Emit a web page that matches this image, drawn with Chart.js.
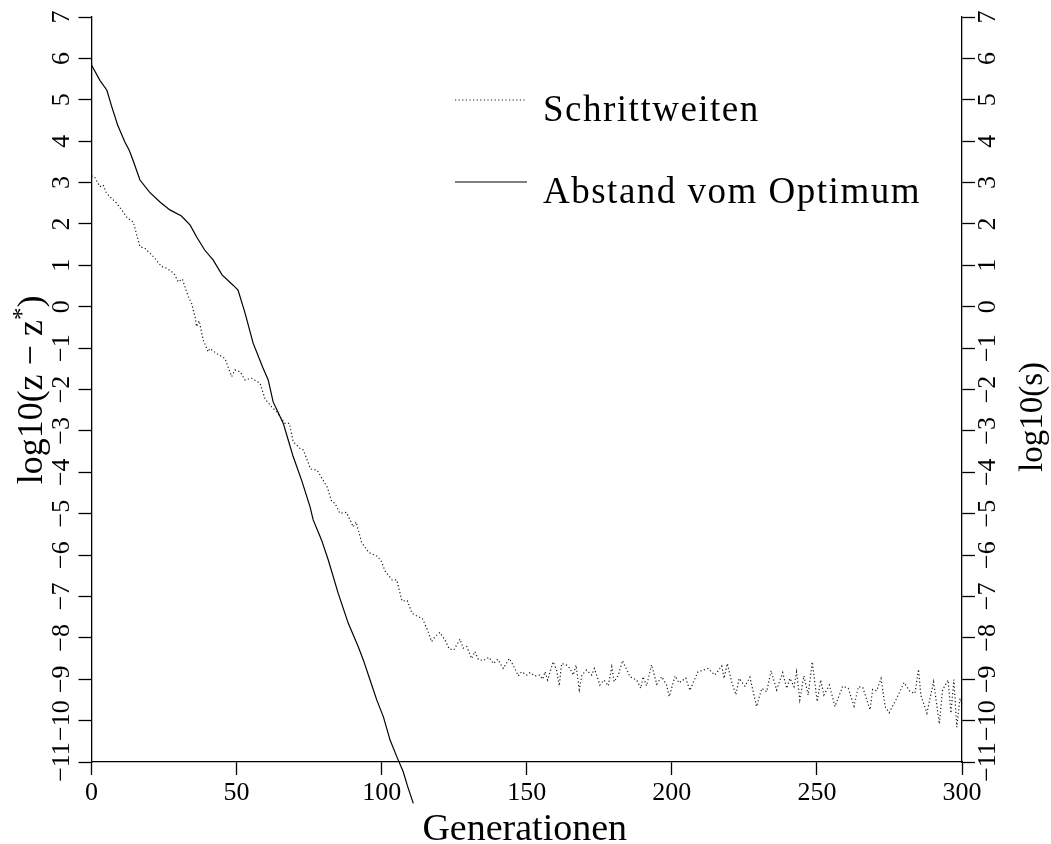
<!DOCTYPE html>
<html>
<head>
<meta charset="utf-8">
<script src="https://cdn.jsdelivr.net/npm/chart.js@4"></script>
<style>
  body { margin: 0; background: #fff; }
  #wrap { width: 1051px; height: 844px; }
</style>
</head>
<body>
<div id="wrap"><canvas id="chart" width="1051" height="844"></canvas></div>
<script>
"use strict"

// Abstand vom Optimum (solid): generation / log10(z - z*)
var gen_abstand = [0, 2.9, 5.3, 7, 9, 11.5, 13, 14.3, 16.7, 20, 23.6, 27, 31, 34, 36.3, 39, 41.9, 45, 48.8, 50.5,
    52.9, 55.7, 59, 60.9, 62.6, 66.1, 67.8, 69.5, 72.4, 75.3, 76.4, 79.3, 81.6, 85, 88.5, 91.9, 93.7, 96, 98.3,
    100.6, 102.9, 105.2, 107.4, 109, 110.9];
var val_abstand = [5.84, 5.47, 5.23, 4.83, 4.39, 3.98, 3.78, 3.54, 3.06, 2.77, 2.53, 2.34, 2.19, 1.97, 1.68, 1.37, 1.13, 0.77, 0.52, 0.40,
    -0.15, -0.88, -1.46, -1.77, -2.30, -2.82, -3.22, -3.62, -4.19, -4.83, -5.15, -5.64, -6.12, -6.92, -7.65, -8.21, -8.54, -9.02, -9.50,
    -9.91, -10.47, -10.87, -11.23, -11.6, -12.0];

// Schrittweiten (dotted): generation / log10(s)
var gen_schritt = [0, 1, 2.9, 4, 5.2, 7.5, 8.7, 10.4, 12.1, 13.5, 14.4, 15.6, 16.7, 18.4, 20.2, 21.3, 24.2, 25.9, 27.6, 28.6,
    29.9, 31.3, 33.4, 34.5, 35.7, 36.2, 37.1, 38.5, 40.2, 40.8, 43.1, 46, 48.3, 49.4, 51.2, 52.9, 55.2, 58.1, 59.8, 62.1,
    63.8, 66.7, 68.2, 69.5, 71.8, 73, 75.5, 77.8, 81.3, 82.8, 83.9, 85.6, 87.9, 90.2, 91.2, 93.1, 95.6, 98.5, 100, 101.1,
    103.6, 105.2, 107, 108.8, 110.5, 112.6, 114, 115.8, 117.2, 118.4, 120.1, 121.8, 123.3, 124.9, 127, 128.1, 129.3, 131, 132.1, 133.3,
    135, 137, 138.5, 140, 141.9, 144, 145.3, 147.1, 148.2, 150, 151.1, 152.8, 154.5, 155.5, 156.3, 157.2, 159.1, 160.3, 161.2, 162,
    163.7, 164.9, 166, 167, 168.1, 169, 170.6, 172.4, 173.3, 175.2, 176.6, 178.1, 179.3, 180.1, 181.6, 183, 185.6, 187.9, 189.3, 190.1,
    191.3, 193, 194.8, 196.5, 198.2, 199.1, 201.1, 202.5, 204.8, 206.2, 209, 212.5, 214.8, 217.2, 218, 219.1, 220.6, 222.1, 223.2, 225.2,
    226.9, 229.2, 231, 232.7, 234.2, 236.1, 238.2, 239.6, 240.7, 242.1, 243, 244.1, 245.5, 247, 248.4, 250.1, 251.3, 252.4, 254.3, 256.2,
    258.9, 260.8, 262.8, 264.3, 265.8, 268.3, 269.2, 270.6, 272.1, 273.5, 274.9, 277.5, 280, 282.1, 283.8, 285, 285.8, 287.9, 290.2, 292.2,
    293.3, 295.2, 296.2, 297.2, 298.2, 299.3, 300];
var val_schritt = [3.16, 3.14, 2.90, 2.94, 2.74, 2.58, 2.50, 2.34, 2.17, 2.08, 2.05, 1.73, 1.45, 1.41, 1.29, 1.21, 0.97, 0.93, 0.85, 0.78,
    0.60, 0.67, 0.24, 0.08, -0.24, -0.48, -0.34, -0.80, -1.09, -1.01, -1.13, -1.25, -1.69, -1.53, -1.57, -1.77, -1.73, -1.85, -2.23, -2.42,
    -2.54, -2.82, -2.82, -3.26, -3.42, -3.46, -3.92, -3.95, -4.37, -4.71, -4.75, -4.99, -4.97, -5.32, -5.20, -5.70, -5.94, -6.03, -6.16, -6.38,
    -6.60, -6.60, -7.11, -7.10, -7.41, -7.49, -7.53, -7.81, -8.09, -7.97, -7.87, -8.05, -8.27, -8.29, -8.03, -8.25, -8.21, -8.50, -8.33, -8.52,
    -8.55, -8.47, -8.62, -8.52, -8.74, -8.50, -8.66, -8.92, -8.82, -8.90, -8.84, -8.92, -8.90, -9.00, -8.82, -9.02, -8.58, -8.78, -9.16, -8.62,
    -8.66, -8.74, -8.90, -8.66, -9.25, -8.90, -8.78, -8.90, -8.74, -9.14, -9.02, -9.16, -8.70, -9.06, -8.90, -8.55, -8.94, -9.02, -9.22, -8.94,
    -9.16, -8.65, -9.12, -8.94, -9.14, -9.42, -8.92, -9.09, -8.97, -9.27, -8.82, -8.74, -8.90, -8.68, -8.98, -8.62, -9.06, -9.38, -8.98, -9.17,
    -8.95, -9.66, -9.22, -9.30, -8.79, -9.26, -8.84, -9.22, -8.98, -9.18, -8.82, -9.50, -8.92, -9.38, -8.58, -9.54, -9.02, -9.38, -9.14, -9.66,
    -9.17, -9.22, -9.65, -9.18, -9.20, -9.74, -9.25, -9.28, -8.98, -9.66, -9.81, -9.46, -9.08, -9.30, -9.34, -8.76, -9.38, -9.82, -9.06, -10.08,
    -9.26, -9.02, -9.82, -9.01, -10.16, -9.46, -9.60];

var x_ticks = [0, 50, 100, 150, 200, 250, 300];
var y_ticks = [-11, -10, -9, -8, -7, -6, -5, -4, -3, -2, -1, 0, 1, 2, 3, 4, 5, 6, 7];

var legend_labels = ["Schrittweiten", "Abstand vom Optimum"];
var x_title = "Generationen";
var y_title_left = "log10(z \u2212 z";
var y_title_right = "log10(s)";

var FONT = "'Liberation Serif', 'Times New Roman', serif";

function to_points(xs, ys){
    var pts = [];
    for(var i=0;i<xs.length;i++){
        pts.push({x: xs[i], y: ys[i]});
    }
    return pts;
}

function fmt(v){
    return v < 0 ? "\u2212" + Math.abs(v) : String(v);
}

var axis_grid = {
    drawOnChartArea: false,
    drawTicks: true,
    tickLength: 13,
    tickColor: "#000",
    tickWidth: 1.3
};

var text_plugin = {
    id: "texts",
    afterDraw: function(chart){
        var ctx = chart.ctx;
        var xs = chart.scales.x, yl = chart.scales.y, yr = chart.scales.y2;
        ctx.save();
        ctx.fillStyle = "#000";

        // y tick labels, rotated
        ctx.font = "26px " + FONT;
        ctx.textAlign = "center";
        ctx.textBaseline = "middle";
        for(var i=0;i<y_ticks.length;i++){
            var py = yl.getPixelForValue(y_ticks[i]);
            ctx.save();
            ctx.translate(62, py);
            ctx.rotate(-Math.PI/2);
            ctx.fillText(fmt(y_ticks[i]), 0, 0);
            ctx.restore();
            py = yr.getPixelForValue(y_ticks[i]);
            ctx.save();
            ctx.translate(988, py);
            ctx.rotate(-Math.PI/2);
            ctx.fillText(fmt(y_ticks[i]), 0, 0);
            ctx.restore();
        }

        // x tick labels
        for(var j=0;j<x_ticks.length;j++){
            ctx.fillText(String(x_ticks[j]), xs.getPixelForValue(x_ticks[j]), 793);
        }

        // axis titles
        ctx.textBaseline = "alphabetic";
        ctx.font = "38px " + FONT;
        ctx.fillText(x_title, (xs.left + xs.right)/2 - 2, 840);

        ctx.save();
        ctx.translate(42, 390);
        ctx.rotate(-Math.PI/2);
        ctx.font = "36px " + FONT;
        var w1 = ctx.measureText(y_title_left).width;
        ctx.font = "25px " + FONT;
        var w2 = ctx.measureText("*").width;
        ctx.font = "36px " + FONT;
        var w3 = ctx.measureText(")").width;
        var start = -(w1 + w2 + w3)/2;
        ctx.textAlign = "left";
        ctx.fillText(y_title_left, start, 0);
        ctx.font = "25px " + FONT;
        ctx.fillText("*", start + w1, -12);
        ctx.font = "36px " + FONT;
        ctx.fillText(")", start + w1 + w2, 0);
        ctx.restore();

        ctx.save();
        ctx.translate(1042, 417);
        ctx.rotate(-Math.PI/2);
        ctx.textAlign = "center";
        ctx.font = "33px " + FONT;
        ctx.fillText(y_title_right, 0, 0);
        ctx.restore();

        // legend
        var sets = chart.data.datasets;
        var rows = [100, 182];
        for(var k=0;k<sets.length;k++){
            ctx.save();
            ctx.strokeStyle = sets[k].borderColor;
            ctx.lineWidth = sets[k].borderWidth;
            ctx.setLineDash(sets[k].borderDash || []);
            ctx.beginPath();
            ctx.moveTo(455, rows[k]);
            ctx.lineTo(527, rows[k]);
            ctx.stroke();
            ctx.restore();
            ctx.save();
            ctx.textAlign = "left";
            ctx.font = "37px " + FONT;
            ctx.letterSpacing = "1.5px";
            ctx.fillText(legend_labels[k], 543, rows[k] + 21);
            ctx.restore();
        }
        ctx.restore();
    }
};

var chart = new Chart(document.getElementById("chart").getContext("2d"), {
    type: "line",
    data: {
        datasets: [
            {
                label: legend_labels[0],
                data: to_points(gen_schritt, val_schritt),
                borderColor: "#1a1a1a",
                borderWidth: 1.2,
                borderDash: [1.2, 2.4],
                pointRadius: 0,
                tension: 0,
                yAxisID: "y2",
                clip: false
            },
            {
                label: legend_labels[1],
                data: to_points(gen_abstand, val_abstand),
                borderColor: "#000",
                borderWidth: 1.2,
                pointRadius: 0,
                tension: 0,
                yAxisID: "y",
                clip: false
            }
        ]
    },
    options: {
        responsive: false,
        animation: false,
        layout: { padding: { top: 17, left: 0, right: 0, bottom: 0 } },
        plugins: {
            legend: { display: false },
            tooltip: { enabled: false }
        },
        scales: {
            x: {
                type: "linear",
                min: 0, max: 300,
                ticks: { stepSize: 50, display: false },
                grid: axis_grid,
                border: { color: "#000", width: 1.3 },
                afterFit: function(s){ s.height = 82; }
            },
            y: {
                type: "linear",
                position: "left",
                min: -11, max: 7,
                ticks: { stepSize: 1, display: false },
                grid: axis_grid,
                border: { color: "#000", width: 1.3 },
                afterFit: function(s){ s.width = 91.5; }
            },
            y2: {
                type: "linear",
                position: "right",
                min: -11, max: 7,
                ticks: { stepSize: 1, display: false },
                grid: axis_grid,
                border: { color: "#000", width: 1.3 },
                afterFit: function(s){ s.width = 89; }
            }
        }
    },
    plugins: [text_plugin]
});
</script>
</body>
</html>
